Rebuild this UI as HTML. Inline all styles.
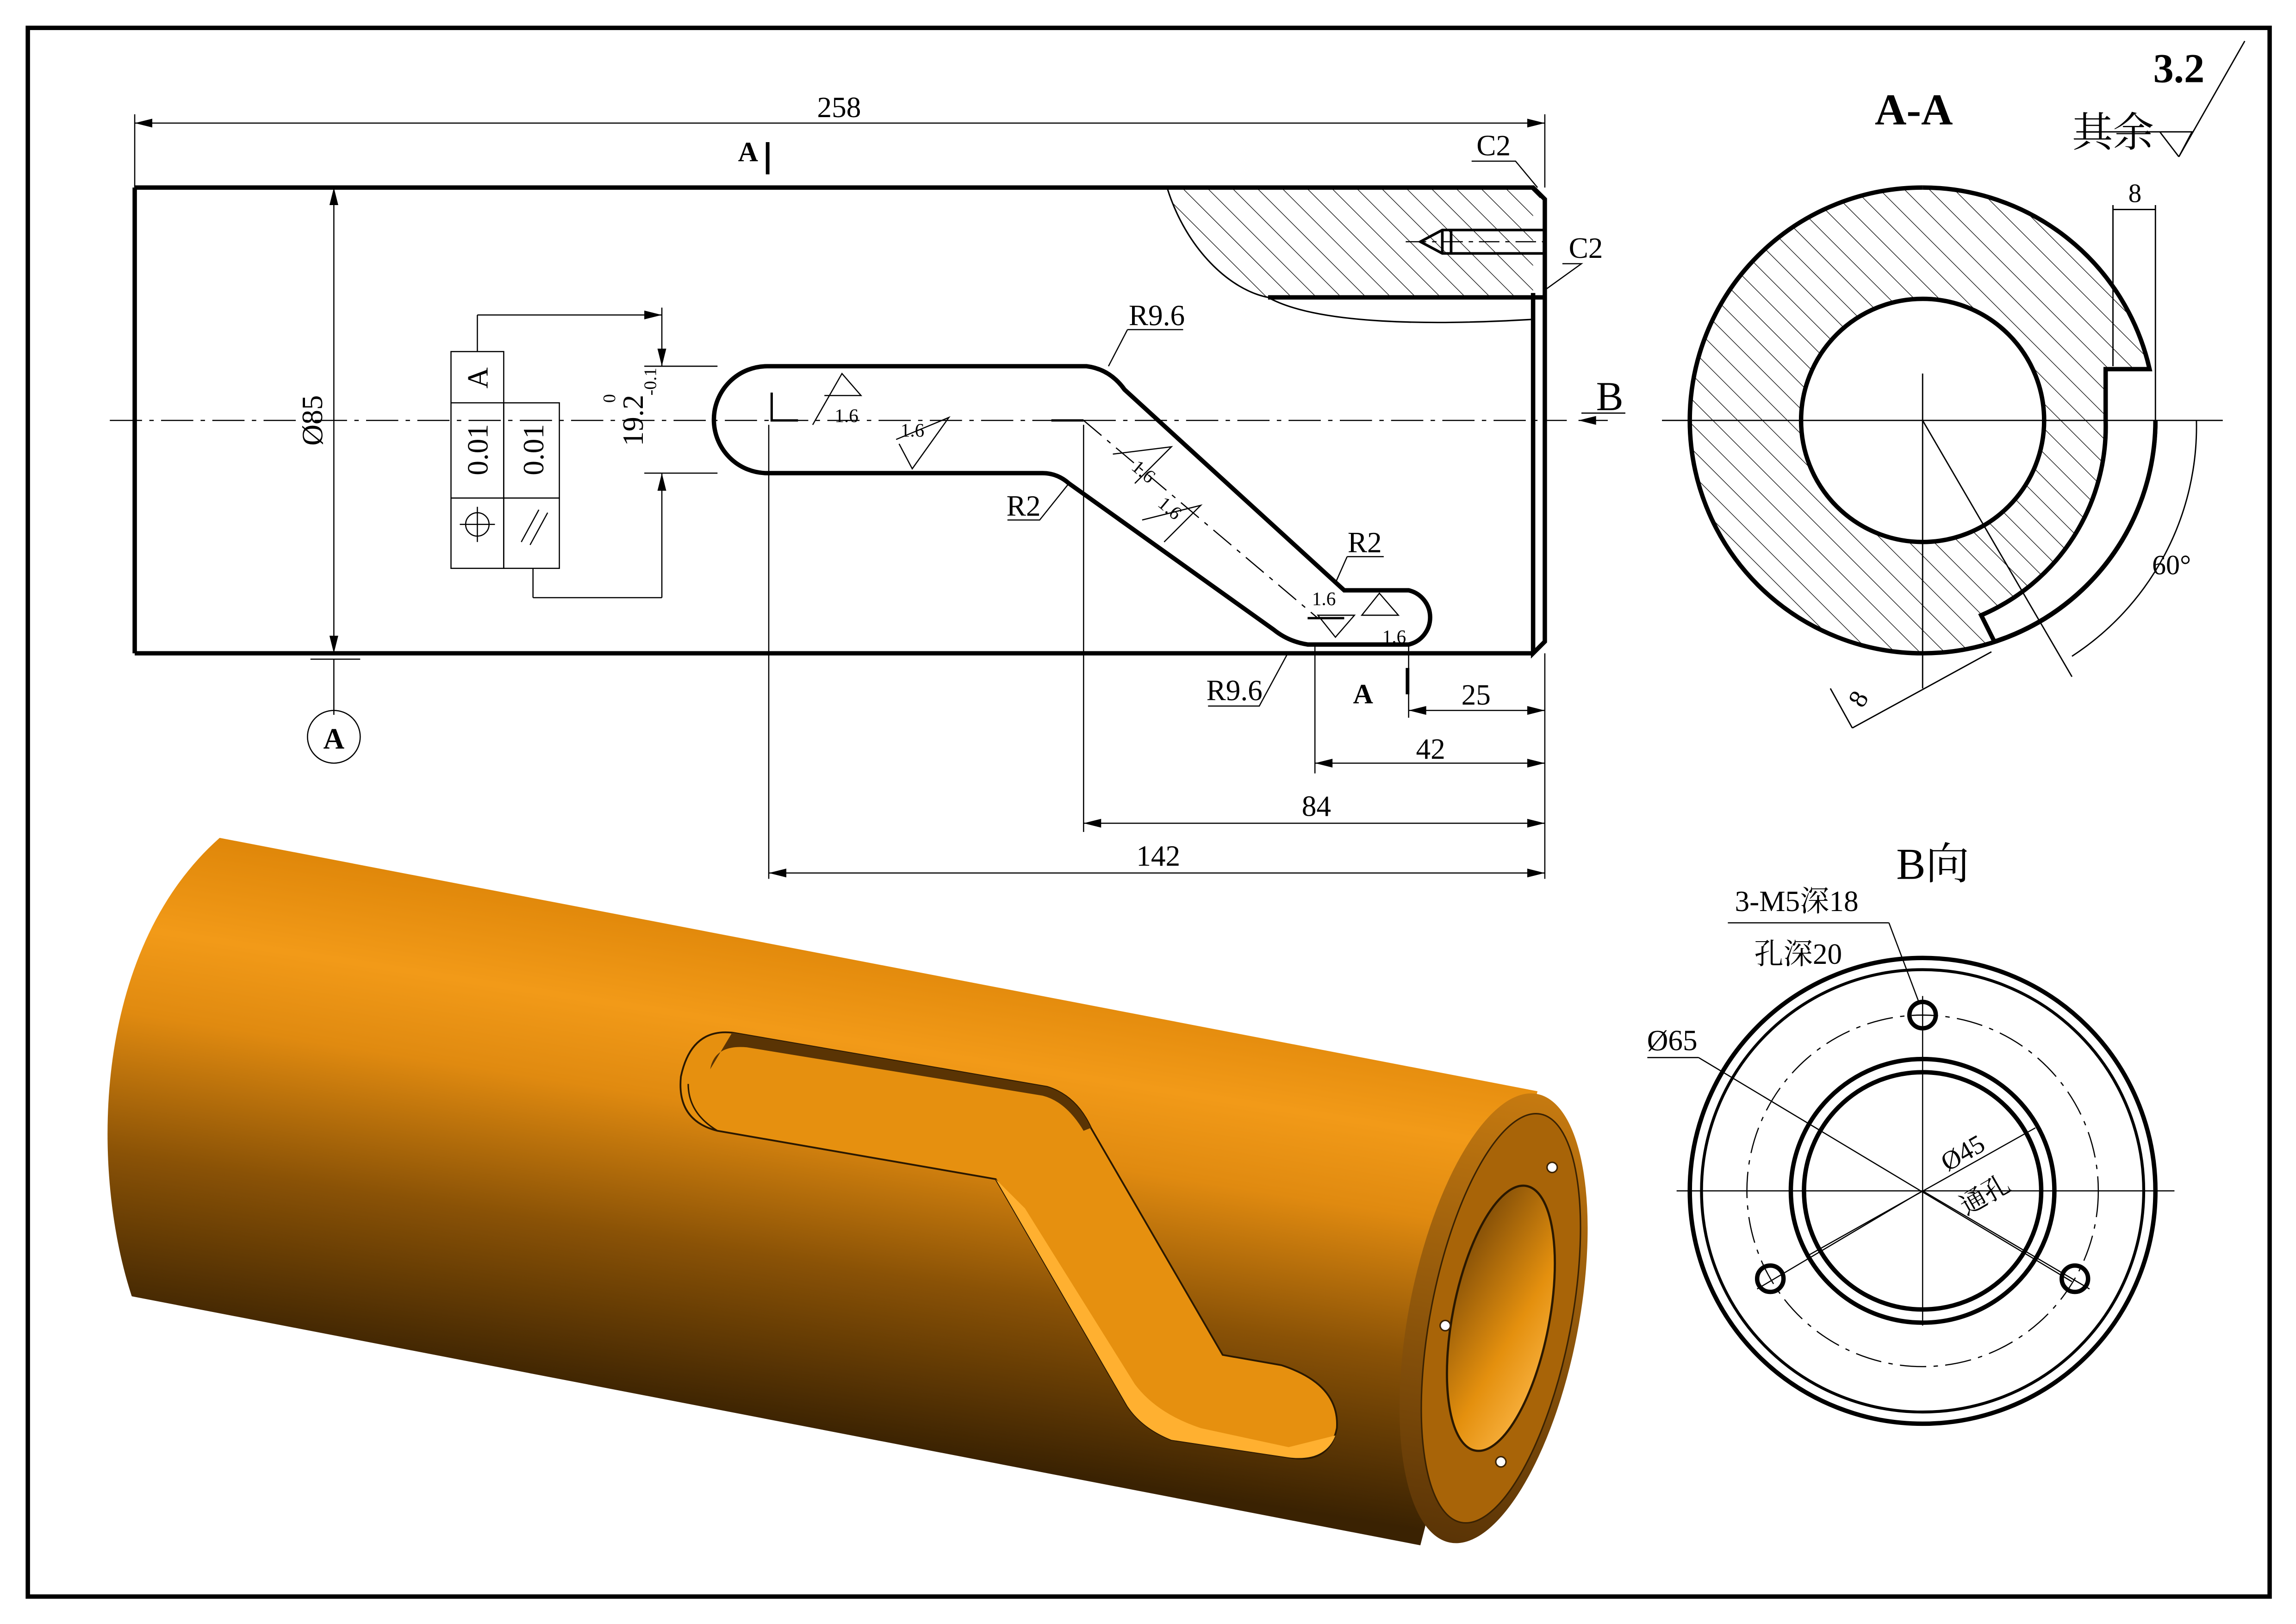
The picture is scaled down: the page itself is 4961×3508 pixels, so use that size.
<!DOCTYPE html>
<html><head><meta charset="utf-8"><style>
html,body{margin:0;padding:0;background:#fff}
svg{display:block}
text{font-family:"Liberation Serif","Noto Serif CJK SC","Noto Sans CJK SC",serif;fill:#000}
</style></head><body>
<svg width="4961" height="3508" viewBox="0 0 1568 1108.7" xmlns="http://www.w3.org/2000/svg">
<defs>
<pattern id="h" width="12" height="12" patternUnits="userSpaceOnUse" patternTransform="rotate(-45)">
<line x1="0" y1="0" x2="0" y2="12" stroke="#000" stroke-width="0.8"/></pattern>
<linearGradient id="cg" gradientUnits="userSpaceOnUse" x1="620" y1="600" x2="560" y2="980">
<stop offset="0" stop-color="#d37a00"/><stop offset="0.3" stop-color="#f29a18"/><stop offset="0.45" stop-color="#e08a10"/><stop offset="0.7" stop-color="#8a5206"/><stop offset="1" stop-color="#3a2202"/></linearGradient>
<linearGradient id="eg" x1="0" y1="0" x2="0" y2="1">
<stop offset="0" stop-color="#c67a10"/><stop offset="1" stop-color="#5a3406"/></linearGradient>
<linearGradient id="bg" x1="0" y1="0" x2="1" y2="1">
<stop offset="0" stop-color="#6b3e06"/><stop offset="0.6" stop-color="#e4900e"/><stop offset="1" stop-color="#ffbc50"/></linearGradient>
<clipPath id="secClip"><path d="M1313,128 A159,159 0 1,0 1472,287 L1438,287 L1438,252 L1468,252 A159,159 0 0,0 1313,128 Z"/></clipPath>
</defs>
<rect x="0" y="0" width="1568" height="1109" fill="#fff"/>
<rect x="19" y="19" width="1531" height="1071" fill="none" stroke="#000" stroke-width="3"/>

<!-- main view -->
<path d="M797,128 C810,170 840,198 866,203 L1047,203 L1047,140 L1055,132 L1047,128 Z" fill="url(#h)"/>
<path d="M92,128 L1047,128 L1055,136 L1055,200 M1047,200 L1047,446 L1055,438 L1055,200 M1055,203 L866,203 M1047,446 L92,446 Z" fill="none" stroke="#000" stroke-width="3"/>
<path d="M92,128 L92,446" stroke="#000" stroke-width="3"/>
<path d="M797,128 C810,170 840,198 866,203" fill="none" stroke="#000" stroke-width="1"/>
<path d="M866,203 C900,222 980,222 1047,218" fill="none" stroke="#000" stroke-width="1"/>
<path d="M1055,157 L985,157 L970,165 L985,173 L1055,173 M985,157 L985,173 M991,157 L991,173" fill="none" stroke="#000" stroke-width="1.8"/>
<line x1="960" y1="165" x2="1060" y2="165" stroke="#000" stroke-width="0.8" stroke-dasharray="14,4,3,4"/>
<!-- slot -->
<path d="M524,250 L742,250 Q758,252 768,266 L918,403 L962,403 A19,19 0 0,1 962,440 L893,440 Q880,438 870,430 L730,330 Q722,323 712,323 L524,323 A36.5,36.5 0 0,1 524,250 Z" fill="none" stroke="#000" stroke-width="3"/>
<line x1="75" y1="287" x2="1070" y2="287" stroke="#000" stroke-width="0.8" stroke-dasharray="22,5,3,5"/>
<line x1="740" y1="287" x2="900" y2="422" stroke="#000" stroke-width="0.8" stroke-dasharray="16,5,3,5"/>
<path d="M527,268 L527,287 L545,287 M718,287 L740,287 M893,422 L918,422" stroke="#000" stroke-width="1.6" fill="none"/>
<!-- dims -->
<g stroke="#000" stroke-width="0.8" fill="none">
<line x1="92" y1="84" x2="1055" y2="84"/><line x1="92" y1="78" x2="92" y2="128"/><line x1="1055" y1="78" x2="1055" y2="128"/>
<line x1="228" y1="128" x2="228" y2="446"/><line x1="212" y1="450" x2="246" y2="450"/><line x1="228" y1="450" x2="228" y2="488"/>
<circle cx="228" cy="503" r="18"/>
<line x1="525" y1="290" x2="525" y2="600"/><line x1="740" y1="290" x2="740" y2="568"/><line x1="898" y1="440" x2="898" y2="528"/><line x1="962" y1="440" x2="962" y2="490"/>
<line x1="1055" y1="446" x2="1055" y2="600"/>
<line x1="962" y1="485" x2="1055" y2="485"/><line x1="898" y1="521" x2="1055" y2="521"/><line x1="740" y1="562" x2="1055" y2="562"/><line x1="525" y1="596" x2="1055" y2="596"/>
<line x1="452" y1="210" x2="452" y2="250"/><line x1="452" y1="323" x2="452" y2="350"/><line x1="440" y1="250" x2="490" y2="250"/><line x1="440" y1="323" x2="490" y2="323"/>
<line x1="326" y1="215" x2="452" y2="215"/><line x1="326" y1="215" x2="326" y2="240"/><line x1="364" y1="388" x2="364" y2="408"/><line x1="364" y1="408" x2="452" y2="408"/><line x1="452" y1="350" x2="452" y2="408"/>
<rect x="308" y="240" width="36" height="148"/><line x1="308" y1="275" x2="344" y2="275"/><line x1="308" y1="340" x2="344" y2="340"/>
<rect x="344" y="275" width="38" height="113"/><line x1="344" y1="340" x2="382" y2="340"/>
<circle cx="326" cy="358" r="8"/><line x1="314" y1="358" x2="338" y2="358"/><line x1="326" y1="346" x2="326" y2="370"/>
<line x1="356" y1="370" x2="368" y2="348"/><line x1="362" y1="372" x2="374" y2="350"/>
<path d="M1005,110 L1035,110 L1050,128"/><path d="M1067,180 L1080,180 L1055,198"/>
<path d="M770,225 L808,225 M770,225 L757,250"/><path d="M688,355 L710,355 L730,330"/><path d="M920,380 L945,380 M920,380 L912,398"/><path d="M825,482 L860,482 L880,445"/>
<path d="M1078,287 L1098,287 M1080,282 L1110,282"/>
<path d="M555,290 L575,255 L588,270 L563,270"/><path d="M612,300 L648,285 L623,320 L614,303"/>
<path d="M760,310 L800,305 L775,330"/><path d="M780,355 L820,345 L795,370"/>
<path d="M900,420 L925,420 L912,435 Z"/><path d="M930,420 L955,420 L942,405 Z"/>
</g>
<g fill="#000">
<path d="M92,84 l12,-3 v6z M1055,84 l-12,-3 v6z M228,128 l-3,12 h6z M228,446 l-3,-12 h6z M962,485 l12,-3 v6z M1055,485 l-12,-3 v6z M898,521 l12,-3 v6z M1055,521 l-12,-3 v6z M740,562 l12,-3 v6z M1055,562 l-12,-3 v6z M525,596 l12,-3 v6z M1055,596 l-12,-3 v6z M452,250 l-3,-12 h6z M452,323 l-3,12 h6z M452,215 l-12,-3 v6z M1078,287 l12,-3 v6z"/>
<rect x="523" y="97" width="2.5" height="22"/><rect x="960" y="456" width="2.5" height="18"/>
</g>
<g font-size="20">
<text x="573" y="80" text-anchor="middle">258</text>
<text x="1020" y="106" text-anchor="middle">C2</text>
<text x="1083" y="176" text-anchor="middle">C2</text>
<text x="504" y="110" font-weight="bold" font-size="19">A</text>
<text x="1090" y="280" font-size="28">B</text>
<text x="790" y="222" text-anchor="middle">R9.6</text>
<text x="699" y="352" text-anchor="middle">R2</text>
<text x="932" y="377" text-anchor="middle">R2</text>
<text x="843" y="478" text-anchor="middle">R9.6</text>
<text x="924" y="480" font-weight="bold" font-size="19">A</text>
<text x="1008" y="481" text-anchor="middle">25</text>
<text x="977" y="518" text-anchor="middle">42</text>
<text x="899" y="557" text-anchor="middle">84</text>
<text x="791" y="591" text-anchor="middle">142</text>
<text transform="translate(220,287) rotate(-90)" text-anchor="middle">Ø85</text>
<text transform="translate(439,287) rotate(-90)" text-anchor="middle">19.2</text>
<text transform="translate(420,275) rotate(-90)" font-size="12">0</text>
<text transform="translate(448,270) rotate(-90)" font-size="12">-0.1</text>
<text transform="translate(333,258) rotate(-90)" text-anchor="middle">A</text>
<text transform="translate(333,307) rotate(-90)" text-anchor="middle">0.01</text>
<text transform="translate(371,307) rotate(-90)" text-anchor="middle">0.01</text>
<text x="228" y="511" text-anchor="middle" font-weight="bold">A</text>
</g>
<g font-size="13">
<text x="570" y="288">1.6</text><text x="615" y="298">1.6</text>
<text transform="translate(772,320) rotate(40)">1.6</text><text transform="translate(790,345) rotate(40)">1.6</text>
<text x="896" y="413">1.6</text><text x="944" y="439">1.6</text>
</g>

<!-- section A-A -->
<g clip-path="url(#secClip)"><circle cx="1313" cy="287" r="159" fill="url(#h)"/></g>
<circle cx="1313" cy="287" r="83" fill="#fff"/>
<path d="M1313,128 A159,159 0 1,0 1472,287" fill="none" stroke="#000" stroke-width="3"/>
<path d="M1313,128 A159,159 0 0,1 1468,252 L1438,252 L1438,287" fill="none" stroke="#000" stroke-width="3"/>
<path d="M1472,287 A159,159 0 0,1 1362,438 L1353,420 A140,140 0 0,0 1438,287" fill="#fff" stroke="#000" stroke-width="3"/>
<path d="M1438,260 A130,130 0 0,1 1362,420" fill="none" stroke="#000" stroke-width="0" />
<circle cx="1313" cy="287" r="83" fill="none" stroke="#000" stroke-width="3"/>
<g stroke="#000" stroke-width="0.9" fill="none">
<line x1="1135" y1="287" x2="1518" y2="287"/><line x1="1313" y1="255" x2="1313" y2="470"/>
<line x1="1313" y1="287" x2="1415" y2="462"/>
<line x1="1265" y1="497" x2="1360" y2="445"/><line x1="1250" y1="470" x2="1265" y2="497"/>
<line x1="1443" y1="140" x2="1443" y2="250"/><line x1="1472" y1="140" x2="1472" y2="287"/><line x1="1443" y1="143" x2="1472" y2="143"/>
<path d="M1500,287 A187,187 0 0,1 1415,448"/>
<path d="M1418,90 L1497,90 L1488,107 L1533,28"/><path d="M1475,90 L1488,107"/>
</g>
<text x="1307" y="85" text-anchor="middle" font-weight="bold" font-size="30">A-A</text>
<text x="1488" y="56" text-anchor="middle" font-weight="bold" font-size="28">3.2</text>
<text x="1443" y="100" text-anchor="middle" font-size="28">其余</text>
<text x="1458" y="138" text-anchor="middle" font-size="18">8</text>
<text x="1483" y="392" text-anchor="middle" font-size="19">60°</text>
<text transform="translate(1272,484) rotate(-60)" font-size="18">8</text>

<!-- B view -->
<text x="1320" y="600" text-anchor="middle" font-size="30">B向</text>
<g stroke="#000" fill="none">
<circle cx="1313" cy="813" r="159" stroke-width="3"/><circle cx="1313" cy="813" r="151" stroke-width="2"/>
<circle cx="1313" cy="813" r="90" stroke-width="3"/><circle cx="1313" cy="813" r="81" stroke-width="3"/>
<circle cx="1313" cy="813" r="120" stroke-width="0.8" stroke-dasharray="18,5,3,5"/>
<circle cx="1313" cy="693" r="9" stroke-width="3"/><circle cx="1209" cy="873" r="9" stroke-width="3"/><circle cx="1417" cy="873" r="9" stroke-width="3"/>
<g stroke-width="0.8">
<line x1="1145" y1="813" x2="1485" y2="813"/><line x1="1313" y1="680" x2="1313" y2="905"/>
<line x1="1313" y1="813" x2="1200" y2="880"/><line x1="1313" y1="813" x2="1427" y2="880"/>
<line x1="1160" y1="722" x2="1415" y2="875"/><line x1="1125" y1="722" x2="1160" y2="722"/>
<line x1="1235" y1="857" x2="1390" y2="770"/>
<line x1="1180" y1="630" x2="1290" y2="630"/><line x1="1290" y1="630" x2="1310" y2="683"/>
</g></g>
<text x="1227" y="622" text-anchor="middle" font-size="20">3-M5深18</text>
<text x="1228" y="658" text-anchor="middle" font-size="20">孔深20</text>
<text x="1142" y="717" text-anchor="middle" font-size="20">Ø65</text>
<text transform="translate(1330,800) rotate(-30)" font-size="18">Ø45</text>
<text transform="translate(1343,830) rotate(-30)" font-size="18">通孔</text>

<!-- 3D cylinder -->
<path d="M150,572 L1050,745 L970,1055 L90,885 C62,800 62,650 150,572 Z" fill="url(#cg)"/>
<ellipse cx="1020" cy="900" rx="58" ry="156" transform="rotate(11 1020 900)" fill="url(#eg)"/>
<ellipse cx="1025" cy="900" rx="48" ry="142" transform="rotate(11 1025 900)" fill="#a86408" stroke="#3a2202" stroke-width="1"/>
<ellipse cx="1025" cy="900" rx="33" ry="92" transform="rotate(11 1025 900)" fill="url(#bg)" stroke="#2a1800" stroke-width="1.5"/>
<circle cx="1060" cy="797" r="3.5" fill="#fff" stroke="#3a2202"/><circle cx="987" cy="905" r="3.5" fill="#fff" stroke="#3a2202"/><circle cx="1025" cy="998" r="3.5" fill="#fff" stroke="#3a2202"/>
<!-- slot -->
<path d="M500,705 L715,742 Q735,748 745,770 L835,925 L875,932 Q915,945 913,975 Q908,1000 880,995 L800,983 Q780,975 770,960 L680,805 L490,772 Q462,765 465,735 Q472,702 500,705 Z" fill="#e6900f" stroke="#2a1800" stroke-width="1.2"/>
<path d="M500,705 L715,742 Q735,748 745,770 L740,772 Q728,752 712,748 L510,715 Q488,713 485,730" fill="#5a3404"/>
<path d="M680,805 L770,960 Q780,975 800,983 L880,995 Q905,998 912,980 L880,988 L820,975 Q790,965 775,945 L700,825 Z" fill="#ffb030"/>
<path d="M470,740 Q470,760 490,772 L680,805" fill="none" stroke="#2a1800" stroke-width="1"/>
</svg>
</body></html>
